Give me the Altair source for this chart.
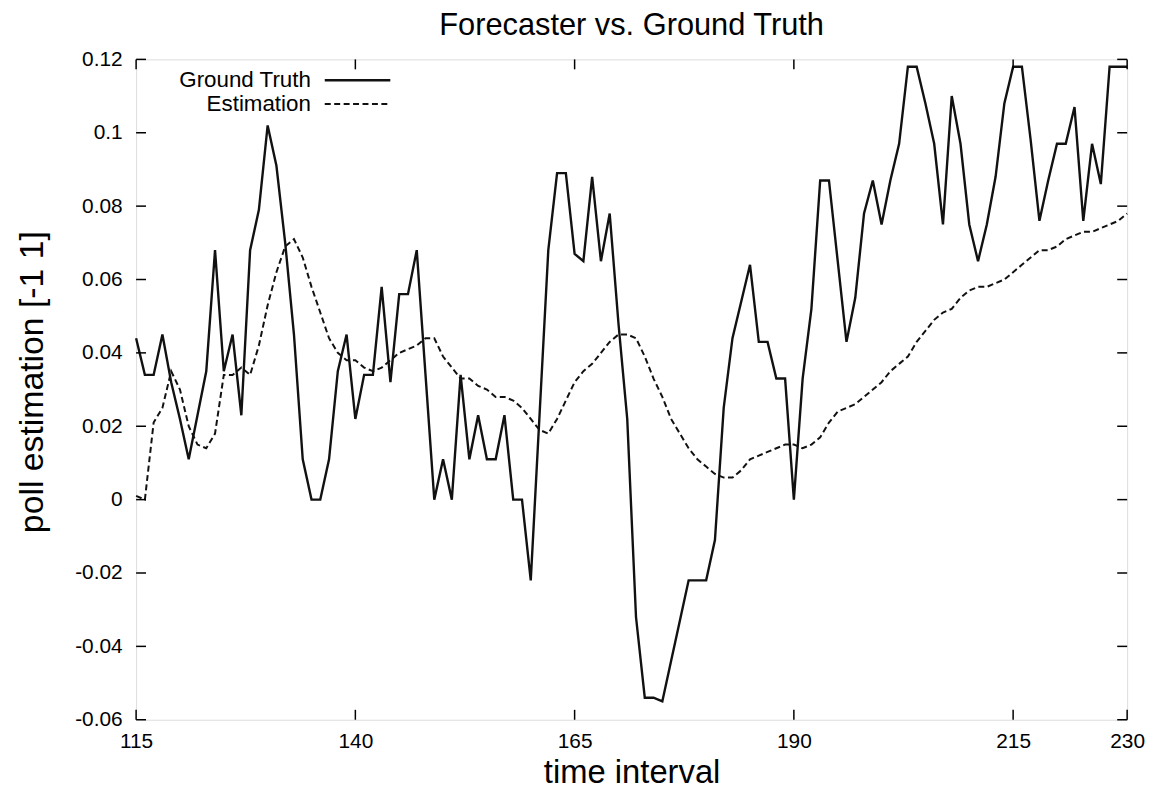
import altair as alt
import pandas as pd

# ---------------- data ----------------
x_vals = list(range(115, 229))

ground_truth = [
    0.044, 0.034, 0.034, 0.045, 0.032, 0.022, 0.011, 0.023, 0.035, 0.068,
    0.035, 0.045, 0.023, 0.068, 0.079, 0.102, 0.091, 0.070, 0.045, 0.011,
    0.000, 0.000, 0.011, 0.035, 0.045, 0.022, 0.034, 0.034, 0.058, 0.032,
    0.056, 0.056, 0.068, 0.034, 0.000, 0.011, 0.000, 0.034, 0.011, 0.023,
    0.011, 0.011, 0.023, 0.000, 0.000, -0.022, 0.023, 0.068, 0.089, 0.089,
    0.067, 0.065, 0.088, 0.065, 0.078, 0.048, 0.022, -0.032, -0.054, -0.054,
    -0.055, -0.044, -0.033, -0.022, -0.022, -0.022, -0.011, 0.025, 0.044, 0.054,
    0.064, 0.043, 0.043, 0.033, 0.033, 0.000, 0.033, 0.052, 0.087, 0.087,
    0.065, 0.043, 0.055, 0.078, 0.087, 0.075, 0.087, 0.097, 0.118, 0.118,
    0.108, 0.097, 0.075, 0.110, 0.097, 0.075, 0.065, 0.075, 0.088, 0.108,
    0.118, 0.118, 0.098, 0.076, 0.087, 0.097, 0.097, 0.107, 0.076, 0.097,
    0.086, 0.118, 0.118, 0.118,
]

estimation = [
    0.001, 0.000, 0.021, 0.025, 0.035, 0.030, 0.020, 0.015, 0.014, 0.018,
    0.034, 0.034, 0.036, 0.034, 0.042, 0.053, 0.062, 0.069, 0.071, 0.066,
    0.058, 0.051, 0.044, 0.040, 0.038, 0.038, 0.036, 0.035, 0.036, 0.038,
    0.040, 0.041, 0.042, 0.044, 0.044, 0.039, 0.036, 0.033, 0.033, 0.031,
    0.030, 0.028, 0.028, 0.027, 0.025, 0.022, 0.019, 0.018, 0.022, 0.027,
    0.032, 0.035, 0.037, 0.040, 0.043, 0.045, 0.045, 0.044, 0.039, 0.033,
    0.028, 0.022, 0.018, 0.014, 0.011, 0.009, 0.007, 0.006, 0.006, 0.008,
    0.011, 0.012, 0.013, 0.014, 0.015, 0.015, 0.014, 0.015, 0.017, 0.021,
    0.024, 0.025, 0.026, 0.028, 0.030, 0.032, 0.035, 0.037, 0.039, 0.043,
    0.046, 0.049, 0.051, 0.052, 0.055, 0.057, 0.058, 0.058, 0.059, 0.060,
    0.062, 0.064, 0.066, 0.068, 0.068, 0.069, 0.071, 0.072, 0.073, 0.073,
    0.074, 0.075, 0.076, 0.078,
]

series_names = ["Ground Truth", "Estimation"]

x_ticks = [115, 140, 165, 190, 215, 228]
x_tick_labels = ["115", "140", "165", "190", "215", "230"]
y_ticks = [-0.06, -0.04, -0.02, 0.0, 0.02, 0.04, 0.06, 0.08, 0.1, 0.12]

# ---------------- layout ----------------
W, H = 998, 665
FONT = "Liberation Sans"
TICK = 10

df = pd.DataFrame({"x": x_vals, "gt": ground_truth, "est": estimation})
xt_df = pd.DataFrame({"v": x_ticks})
yt_df = pd.DataFrame({"v": y_ticks})

xscale = alt.Scale(domain=[x_ticks[0], x_ticks[-1]], nice=False, zero=False)
yscale = alt.Scale(domain=[y_ticks[0], y_ticks[-1]], nice=False, zero=False)

label_js = "[" + ",".join("'%s'" % s for s in x_tick_labels) + "]"
value_js = "[" + ",".join(str(v) for v in x_ticks) + "]"

xaxis = alt.Axis(
    values=x_ticks,
    labelExpr=f"{label_js}[indexof({value_js}, datum.value)]",
    ticks=False, domain=False, grid=False, labelFlush=False,
    labelPadding=11, labelFontSize=21, labelFont=FONT, labelColor="black",
    title="time interval", titleFont=FONT, titleFontSize=33,
    titleFontWeight="normal", titleColor="black",
    titleBaseline="middle", titleY=53, titleX=W / 2,
)
yaxis = alt.Axis(
    values=y_ticks,
    labelExpr="replace(format(datum.value, '~g'), '\u2212', '-')",
    ticks=False, domain=False, grid=False, labelFlush=False,
    labelPadding=14, labelFontSize=21, labelFont=FONT, labelColor="black",
    title="poll estimation [-1 1]", titleFont=FONT, titleFontSize=34,
    titleFontWeight="normal", titleColor="black",
    titleAngle=270, titleBaseline="alphabetic", titleX=-94, titleY=H / 2 - 8,
    titleAlign="center",
)


def X(field):
    return alt.X(field, type="quantitative", scale=xscale, axis=xaxis)


def Y(field):
    return alt.Y(field, type="quantitative", scale=yscale, axis=yaxis)


base = alt.Chart(df)
gt_line = base.mark_line(color="#111", strokeWidth=2.4).encode(x=X("x"), y=Y("gt"))
est_line = base.mark_line(color="#111", strokeWidth=2, strokeDash=[6, 3.5]).encode(
    x=X("x"), y=Y("est")
)

# inward ticks on all four sides
tick_style = dict(color="black", strokeWidth=1.5)
left_t = alt.Chart(yt_df).mark_rule(**tick_style).encode(
    y=Y("v"), x=alt.value(0), x2=alt.value(TICK)
)
right_t = alt.Chart(yt_df).mark_rule(**tick_style).encode(
    y=Y("v"), x=alt.value(W - TICK), x2=alt.value(W)
)
bottom_t = alt.Chart(xt_df).mark_rule(**tick_style).encode(
    x=X("v"), y=alt.value(H - TICK), y2=alt.value(H)
)
top_t = alt.Chart(xt_df).mark_rule(**tick_style).encode(
    x=X("v"), y=alt.value(0), y2=alt.value(TICK)
)

# gnuplot-style key (label, then line sample)
key_layers = []
for i, name in enumerate(series_names):
    ky = 21 + 24 * i
    kd = pd.DataFrame({"label": [name]})
    key_layers.append(
        alt.Chart(kd).mark_text(
            align="right", baseline="middle", fontSize=22.5, font=FONT, color="black"
        ).encode(text="label:N", x=alt.value(176), y=alt.value(ky))
    )
    rule_kw = dict(color="#111", strokeWidth=2.4 if i == 0 else 2)
    if i == 1:
        rule_kw["strokeDash"] = [6, 3.5]
    key_layers.append(
        alt.Chart(kd).mark_rule(**rule_kw).encode(
            x=alt.value(190), x2=alt.value(256), y=alt.value(ky)
        )
    )

chart = alt.layer(
    gt_line, est_line, left_t, right_t, bottom_t, top_t, *key_layers
).properties(
    width=W,
    height=H,
    title=alt.Title(
        "Forecaster vs. Ground Truth", font=FONT, fontSize=31,
        fontWeight="normal", color="black", anchor="middle", offset=7,
    ),
    autosize=alt.AutoSizeParams(type="none"),
    padding={"left": 129, "top": 49, "right": 20, "bottom": 68},
).configure_view(
    stroke="black", strokeWidth=2
).configure(background="white")

chart.save("out.html", embed_options={"renderer": "svg", "actions": False})
